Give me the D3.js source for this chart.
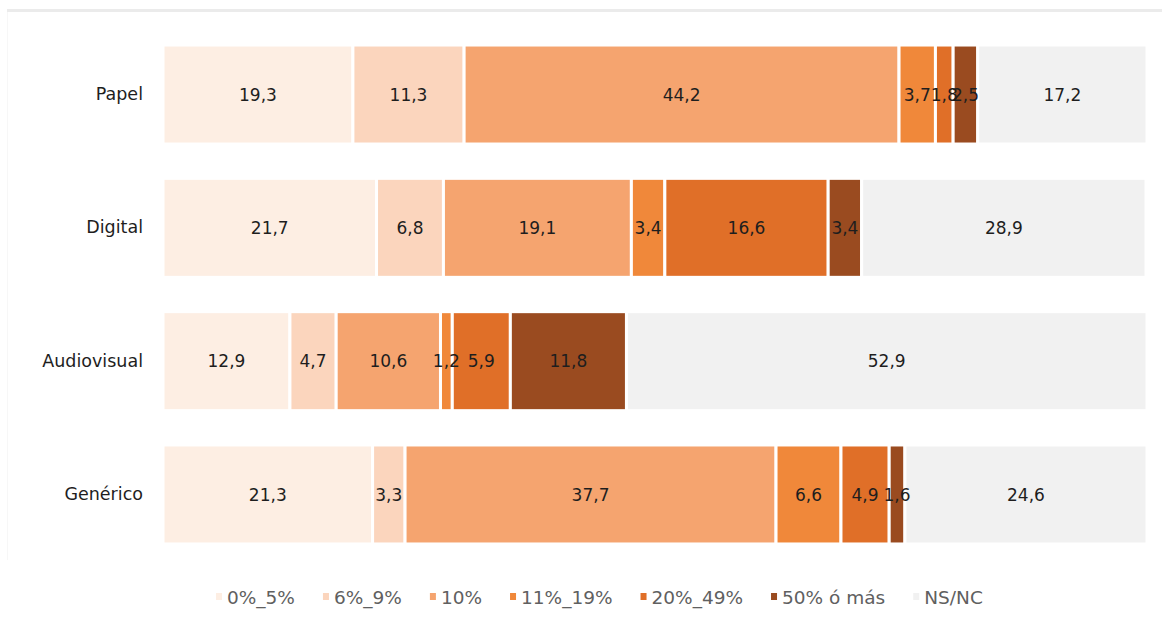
<!DOCTYPE html>
<html>
<head>
<meta charset="utf-8">
<script src="https://cdn.jsdelivr.net/npm/d3@7"></script>
<style>
  html, body { margin: 0; padding: 0; background: #fff; }
  svg { display: block; }
  text { font-family: "DejaVu Sans", sans-serif; }
</style>
</head>
<body>
<svg id="chart" width="1167" height="622"></svg>
<script>
const categories = ["Papel", "Digital", "Audiovisual", "Genérico"];
const seriesNames = ["0%_5%", "6%_9%", "10%", "11%_19%", "20%_49%", "50% ó más", "NS/NC"];
const s0_5   = [19.3, 21.7, 12.9, 21.3];
const s6_9   = [11.3, 6.8, 4.7, 3.3];
const s10    = [44.2, 19.1, 10.6, 37.7];
const s11_19 = [3.7, 3.4, 1.2, 6.6];
const s20_49 = [1.8, 16.6, 5.9, 4.9];
const s50    = [2.5, 3.4, 11.8, 1.6];
const sNSNC  = [17.2, 28.9, 52.9, 24.6];
const colors = ["#fdeee3", "#fbd5bd", "#f5a46f", "#f0883a", "#e06f28", "#9a4b20", "#f1f1f1"];

const seriesValues = [s0_5, s6_9, s10, s11_19, s20_49, s50, sNSNC];
const rows = categories.map((c, i) => {
  const r = { cat: c };
  seriesNames.forEach((s, j) => r[s] = seriesValues[j][i]);
  return r;
});
const stacked = d3.stack().keys(seriesNames)(rows);

const svg = d3.select("#chart");
const x = d3.scaleLinear().domain([0, 100]).range([163, 1147]);
const y = d3.scaleBand().domain(categories).range([27.7, 561.3]).paddingInner(0.2575).paddingOuter(0.13);
const color = d3.scaleOrdinal().domain(seriesNames).range(colors);
const fmt = v => String(v).replace(".", ",");

// frame lines
svg.append("line").attr("x1", 7).attr("x2", 1162).attr("y1", 10.5).attr("y2", 10.5)
  .attr("stroke", "#ebebeb").attr("stroke-width", 3);
svg.append("line").attr("x1", 7.5).attr("x2", 7.5).attr("y1", 12).attr("y2", 560)
  .attr("stroke", "#f7f7f7").attr("stroke-width", 1);

// bars
const layers = svg.append("g").selectAll("g").data(stacked).join("g")
  .attr("fill", d => color(d.key));
layers.selectAll("rect").data(d => d).join("rect")
  .attr("x", d => x(d[0]))
  .attr("y", d => y(d.data.cat))
  .attr("width", d => Math.max(0, x(d[1]) - x(d[0])))
  .attr("height", y.bandwidth())
  .attr("stroke", "#fff").attr("stroke-width", 3);

// value labels
const labels = svg.append("g");
stacked.forEach(layer => {
  layer.forEach(d => {
    labels.append("text")
      .attr("x", (x(d[0]) + x(d[1])) / 2)
      .attr("y", y(d.data.cat) + y.bandwidth() / 2)
      .attr("dy", "0.36em")
      .attr("text-anchor", "middle")
      .attr("font-size", 17)
      .attr("fill", "#1e1e1e")
      .text(fmt(d.data[layer.key]));
  });
});

// category axis
const yAxis = svg.append("g").attr("transform", "translate(150,0)")
  .call(d3.axisLeft(y).tickSize(0).tickPadding(7));
yAxis.select(".domain").remove();
yAxis.selectAll("text").attr("font-size", 17.5).attr("fill", "#1e1e1e")
  .attr("font-family", "DejaVu Sans, sans-serif");

// legend
const legend = svg.append("g");
let lx = 216;
seriesNames.forEach((s, i) => {
  const g = legend.append("g").attr("transform", `translate(${lx},0)`);
  g.append("rect").attr("x", 0).attr("y", 593).attr("width", 6).attr("height", 7)
    .attr("fill", colors[i]);
  const t = g.append("text").attr("x", 11).attr("y", 597).attr("dy", "0.36em")
    .attr("font-size", 18.5).attr("fill", "#606060").text(s);
  lx += 11 + t.node().getComputedTextLength() + 28;
});
</script>
</body>
</html>
